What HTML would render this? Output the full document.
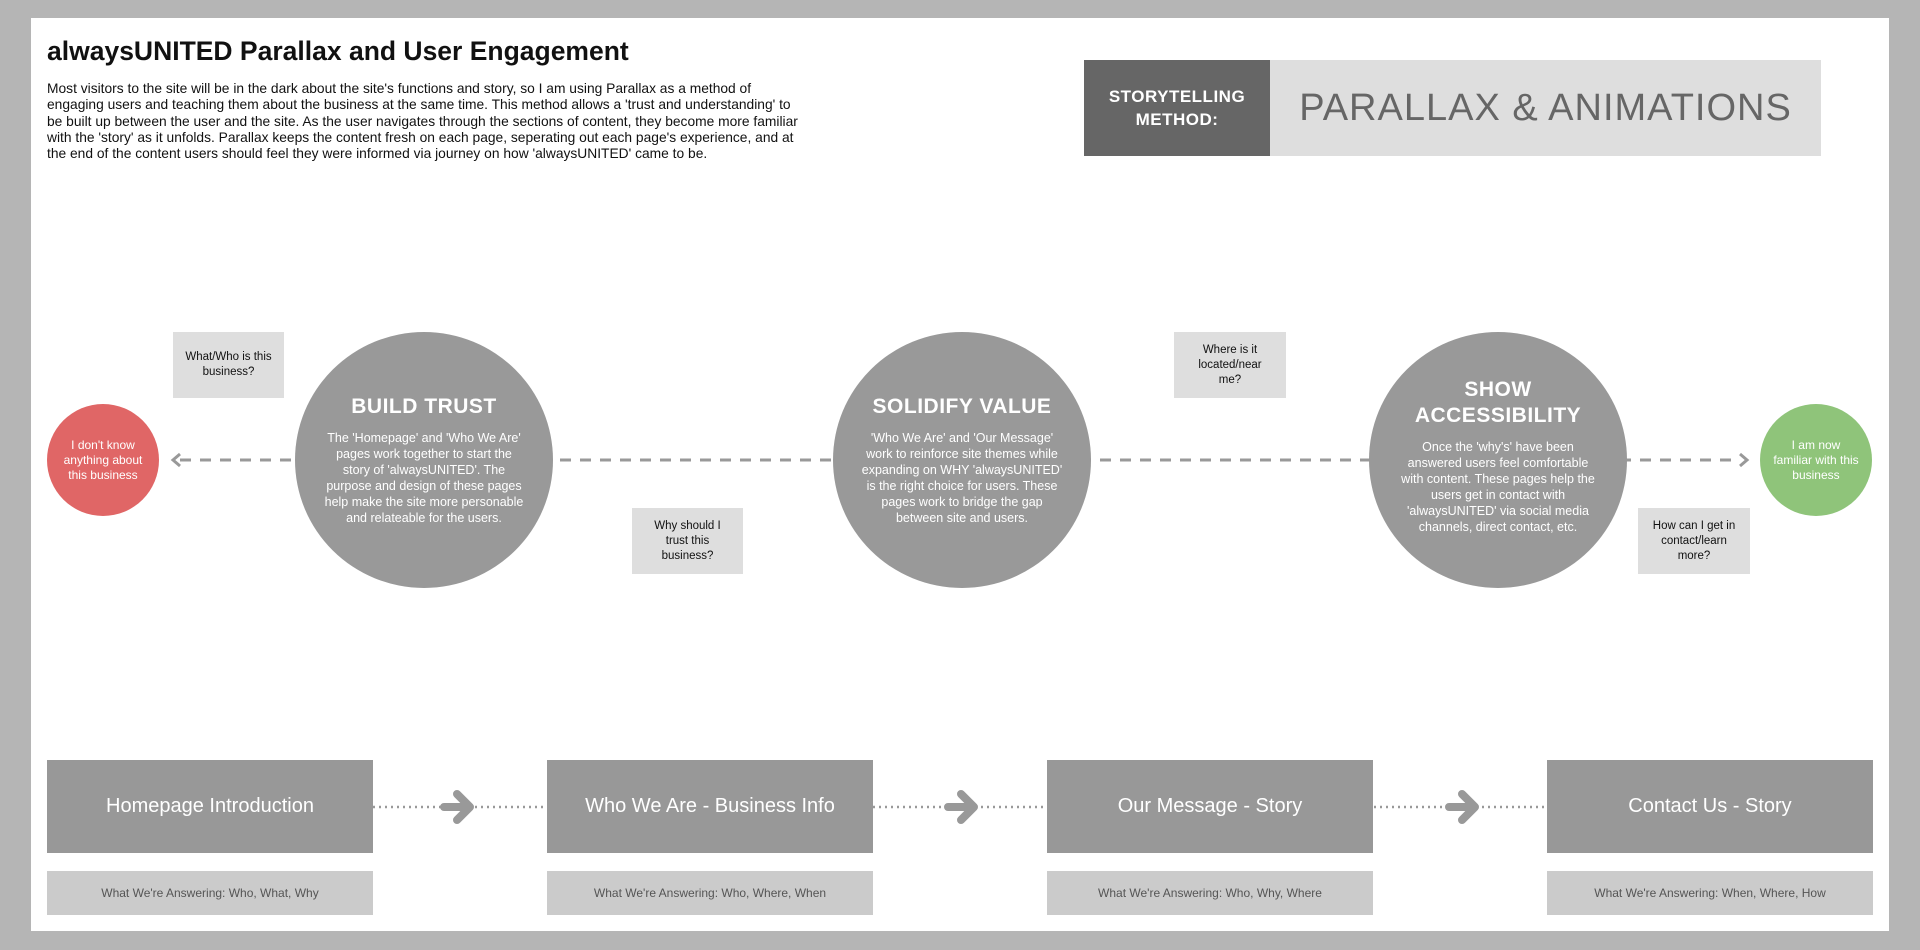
<!DOCTYPE html>
<html><head><meta charset="utf-8"><style>
*{margin:0;padding:0;box-sizing:border-box}
body{width:1920px;height:950px;background:#b5b5b5;position:relative;overflow:hidden;font-family:"Liberation Sans",sans-serif}
.a{position:absolute}
.panel{left:31px;top:18px;width:1858px;height:913px;background:#fff}
.c{display:flex;flex-direction:column;align-items:center;justify-content:center;text-align:center;border-radius:50%}
.q{background:#dedede;display:flex;align-items:center;justify-content:center;text-align:center;font-size:11.5px;line-height:15px;color:#111}
.big{background:#989898;color:#fff;font-size:20px;display:flex;align-items:center;justify-content:center}
.sub{background:#cbcbcb;color:#555;font-size:12px;display:flex;align-items:center;justify-content:center}
.ct{color:#fff;font-weight:bold;font-size:21px;line-height:26px;letter-spacing:0.5px}
.cb{color:#fff;font-size:12.5px;line-height:16px;margin-top:10px}
</style></head><body>
<div class="a panel"></div>
<div class="a" style="left:47px;top:36px;font-size:26.5px;font-weight:bold;color:#111;white-space:nowrap">alwaysUNITED Parallax and User Engagement</div>
<div class="a" style="left:47px;top:81px;font-size:13.8px;line-height:16.3px;color:#111;white-space:nowrap">Most visitors to the site will be in the dark about the site's functions and story, so I am using Parallax as a method of<br>engaging users and teaching them about the business at the same time. This method allows a 'trust and understanding' to<br>be built up between the user and the site. As the user navigates through the sections of content, they become more familiar<br>with the 'story' as it unfolds. Parallax keeps the content fresh on each page, seperating out each page's experience, and at<br>the end of the content users should feel they were informed via journey on how 'alwaysUNITED' came to be.</div>

<div class="a" style="left:1084px;top:60px;width:186px;height:96px;background:#666;color:#fff;font-weight:bold;font-size:17px;line-height:23px;display:flex;align-items:center;justify-content:center;text-align:center;letter-spacing:0.5px">STORYTELLING<br>METHOD:</div>
<div class="a" style="left:1270px;top:60px;width:551px;height:96px;background:#dedede;color:#666;font-size:38px;display:flex;align-items:center;justify-content:center;letter-spacing:1px;white-space:nowrap">PARALLAX &amp; ANIMATIONS</div>

<svg class="a" style="left:0;top:0" width="1920" height="950">
<line x1="180" y1="460" x2="1740" y2="460" stroke="#999" stroke-width="3" stroke-dasharray="11 9"/>
<polyline points="180,454 173,460 180,466" fill="none" stroke="#999" stroke-width="3"/>
<polyline points="1740,454 1747,460 1740,466" fill="none" stroke="#999" stroke-width="3"/>
<g stroke="#999" stroke-width="2.5" stroke-dasharray="2 4">
<line x1="373" y1="807" x2="546" y2="807"/><line x1="873" y1="807" x2="1047" y2="807"/><line x1="1374" y1="807" x2="1547" y2="807"/>
</g>
<g fill="none" stroke="#999" stroke-width="8" stroke-linecap="round" stroke-linejoin="round">
<path d="M444 807h22M457 794l13 13-13 13"/><path d="M948 807h22M961 794l13 13-13 13"/><path d="M1449 807h22M1462 794l13 13-13 13"/>
</g>
</svg>

<div class="a c" style="left:47px;top:404px;width:112px;height:112px;background:#e06666;color:#fff;font-size:12px;line-height:15px">I don't know<br>anything about<br>this business</div>
<div class="a c" style="left:1760px;top:404px;width:112px;height:112px;background:#8fc47a;color:#fff;font-size:12px;line-height:15px">I am now<br>familiar with this<br>business</div>

<div class="a c" style="left:295px;top:332px;width:258px;height:256px;background:#999"><div class="ct">BUILD TRUST</div><div class="cb">The 'Homepage' and 'Who We Are'<br>pages work together to start the<br>story of 'alwaysUNITED'. The<br>purpose and design of these pages<br>help make the site more personable<br>and relateable for the users.</div></div>
<div class="a c" style="left:833px;top:332px;width:258px;height:256px;background:#999"><div class="ct">SOLIDIFY VALUE</div><div class="cb">'Who We Are' and 'Our Message'<br>work to reinforce site themes while<br>expanding on WHY 'alwaysUNITED'<br>is the right choice for users. These<br>pages work to bridge the gap<br>between site and users.</div></div>
<div class="a c" style="left:1369px;top:332px;width:258px;height:256px;background:#999;padding-bottom:8px"><div class="ct">SHOW<br>ACCESSIBILITY</div><div class="cb">Once the 'why's' have been<br>answered users feel comfortable<br>with content. These pages help the<br>users get in contact with<br>'alwaysUNITED' via social media<br>channels, direct contact, etc.</div></div>

<div class="a q" style="left:173px;top:332px;width:111px;height:66px">What/Who is this<br>business?</div>
<div class="a q" style="left:632px;top:508px;width:111px;height:66px">Why should I<br>trust this<br>business?</div>
<div class="a q" style="left:1174px;top:332px;width:112px;height:66px">Where is it<br>located/near<br>me?</div>
<div class="a q" style="left:1638px;top:508px;width:112px;height:66px">How can I get in<br>contact/learn<br>more?</div>

<div class="a big" style="left:47px;top:760px;width:326px;height:93px">Homepage Introduction</div>
<div class="a big" style="left:547px;top:760px;width:326px;height:93px">Who We Are - Business Info</div>
<div class="a big" style="left:1047px;top:760px;width:326px;height:93px">Our Message - Story</div>
<div class="a big" style="left:1547px;top:760px;width:326px;height:93px">Contact Us - Story</div>
<div class="a sub" style="left:47px;top:871px;width:326px;height:44px">What We're Answering: Who, What, Why</div>
<div class="a sub" style="left:547px;top:871px;width:326px;height:44px">What We're Answering: Who, Where, When</div>
<div class="a sub" style="left:1047px;top:871px;width:326px;height:44px">What We're Answering: Who, Why, Where</div>
<div class="a sub" style="left:1547px;top:871px;width:326px;height:44px">What We're Answering: When, Where, How</div>
</body></html>
